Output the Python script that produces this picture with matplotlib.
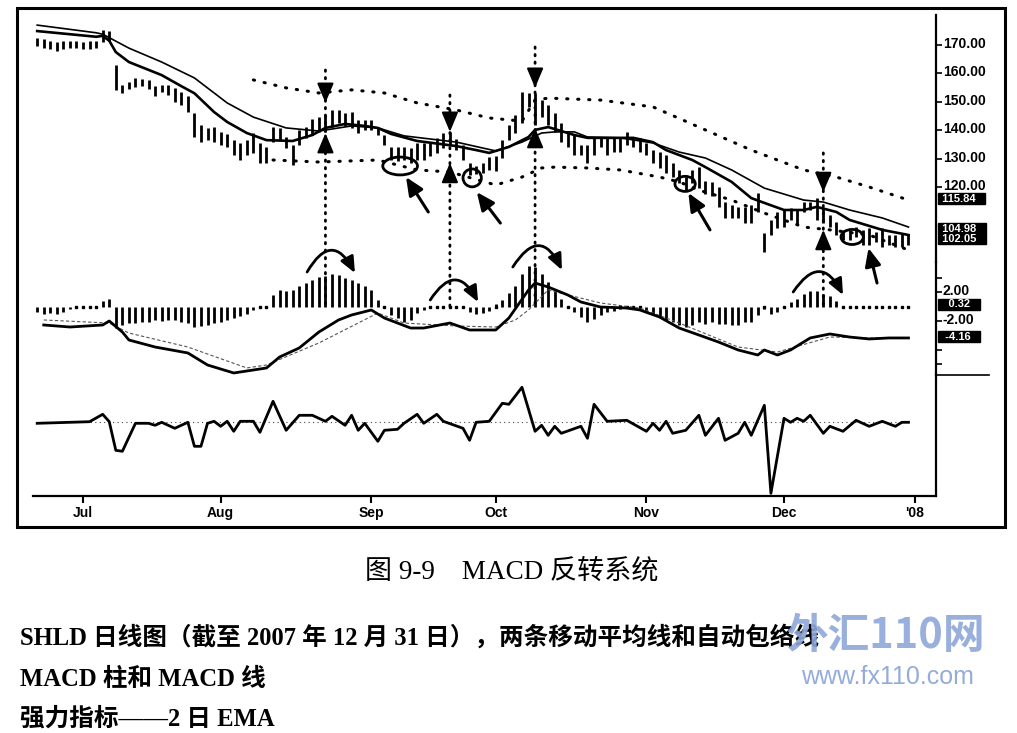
import matplotlib
matplotlib.use("Agg")
import matplotlib.pyplot as plt
from matplotlib.patches import Ellipse, FancyArrowPatch, ConnectionPatch, Rectangle
from matplotlib.lines import Line2D
from matplotlib.transforms import blended_transform_factory, ScaledTranslation
import numpy as np

plt.rcParams['font.family'] = ['Liberation Sans', 'DejaVu Sans']

# ---------------- data (trading-day index 0 = 21 Jun 2007) ----------------
bar_high = [172.5, 172.0, 171.5, 171.0, 171.5, 171.5, 171.5, 171.0, 171.5, 171.5,
            175.3, 175.0, 163.0, 156.0, 157.0, 158.4, 158.0, 157.5, 155.5, 156.0,
            156.0, 155.0, 153.5, 152.0, 146.1, 141.8, 140.8, 141.1, 139.4, 138.5,
            136.5, 135.5, 136.5, 139.0, 135.5, 134.0, 141.1, 140.8, 137.6, 134.8,
            140.1, 141.1, 144.0, 144.6, 145.4, 147.1, 147.1, 146.0, 146.4, 143.6,
            143.6, 143.6, 140.8, 138.3, 134.1, 134.1, 134.1, 133.7, 135.5, 135.5,
            136.0, 137.3, 139.0, 139.5, 137.0, 134.8, 128.5, 127.5, 128.5, 130.6,
            131.0, 136.5, 141.8, 145.4, 153.5, 153.1, 153.1, 150.6, 148.9, 146.1,
            142.5, 139.0, 138.3, 134.8, 134.8, 137.3, 137.6, 137.6, 137.6, 137.6,
            139.4, 137.3, 137.3, 135.5, 133.0, 132.3, 131.3, 128.5, 126.0, 123.5,
            126.0, 127.0, 122.0, 121.8, 120.0, 114.7, 113.7, 113.0, 113.0, 113.7,
            117.9, 103.8, 108.4, 111.2, 111.9, 112.6, 111.9, 114.7, 114.7, 116.1,
            112.6, 110.1, 107.7, 104.9, 104.9, 105.9, 104.9, 105.6, 104.2, 105.6,
            103.1, 103.1, 103.8, 103.5]
bar_low = [169.5, 169.0, 168.5, 168.0, 168.5, 169.0, 169.0, 168.5, 168.5, 169.0,
           171.0, 171.5, 154.2, 153.0, 154.5, 155.2, 155.5, 154.5, 152.0, 153.5,
           152.5, 150.0, 148.9, 146.4, 137.6, 135.8, 136.5, 135.8, 134.8, 134.0,
           131.3, 129.5, 131.3, 132.0, 128.5, 128.5, 135.8, 136.5, 133.7, 127.7,
           134.8, 137.3, 138.3, 139.4, 139.4, 141.1, 142.5, 141.5, 140.8, 139.0,
           140.1, 140.1, 138.3, 134.8, 129.5, 129.0, 129.5, 128.5, 129.5, 129.5,
           131.0, 132.0, 133.7, 134.8, 133.0, 129.5, 124.2, 124.5, 125.0, 126.0,
           125.5, 130.2, 136.5, 139.0, 142.5, 148.2, 141.8, 144.8, 141.8, 139.4,
           135.8, 134.1, 131.3, 131.3, 128.5, 131.3, 134.1, 131.3, 132.3, 132.3,
           134.8, 134.1, 132.3, 131.3, 128.5, 126.7, 124.9, 123.5, 121.4, 119.0,
           121.4, 119.6, 117.5, 116.8, 113.0, 109.1, 109.1, 109.1, 107.3, 107.3,
           111.2, 97.1, 103.1, 105.6, 105.9, 108.4, 106.6, 111.2, 111.9, 108.4,
           107.3, 105.9, 103.1, 101.3, 101.3, 102.4, 99.6, 99.6, 100.6, 98.9,
           99.6, 98.9, 98.9, 99.5]

ema_fast_idx = [0, 9, 10, 11, 12, 14, 19, 22, 24, 27, 29, 32, 35, 39, 42, 44, 47, 50, 52, 54,
                58, 64, 67, 69, 72, 75, 76, 78, 79, 82, 84, 87, 91, 94, 96, 100, 102, 106,
                109, 111, 114, 117, 119, 122, 124, 129, 133]
ema_fast_val = [174.9, 172.9, 173.2, 171.5, 167.5, 164.0, 159.4, 155.5, 153.0, 146.4, 142.9,
                139.0, 136.5, 136.2, 138.3, 140.8, 142.2, 141.5, 140.8, 138.7, 136.2, 134.4,
                133.0, 132.0, 134.1, 137.6, 140.1, 141.1, 140.4, 138.3, 137.3, 137.3, 137.3,
                135.8, 133.0, 129.5, 127.0, 121.8, 116.1, 114.4, 111.9, 111.9, 113.0, 111.2,
                108.4, 104.9, 103.1]
ema_slow_idx = [0, 9, 10, 14, 19, 24, 29, 33, 38, 43, 48, 52, 56, 64, 70, 74, 77, 79, 82, 84,
                89, 94, 98, 102, 106, 111, 117, 120, 124, 129, 133]
ema_slow_val = [177.0, 174.3, 173.8, 168.9, 164.0, 158.4, 149.6, 144.6, 140.8, 139.7, 141.5,
                140.8, 138.0, 135.8, 132.7, 135.8, 139.0, 139.4, 139.4, 137.6, 137.3, 135.5,
                132.3, 130.2, 126.0, 119.6, 115.4, 114.7, 111.9, 109.1, 105.9]
env_up_idx = [33, 38, 43, 48, 53, 58, 64, 69, 74, 76, 78, 86, 94, 101, 109, 117, 122, 127, 133]
env_up_val = [157.7, 154.9, 153.1, 154.2, 153.1, 149.6, 147.1, 144.3, 143.2, 150.6, 151.3,
              150.6, 148.2, 141.1, 133.0, 126.0, 123.5, 120.0, 115.4]
env_lo_idx = [36, 43, 52, 58, 63, 70, 74, 77, 79, 84, 89, 95, 98, 101, 106, 111, 117, 121, 127, 133]
env_lo_val = [129.5, 128.8, 129.5, 126.0, 125.3, 120.7, 123.5, 126.7, 127.0, 126.7, 126.0,
              123.5, 121.8, 118.9, 115.4, 110.8, 105.9, 104.9, 103.1, 97.8]

macd_hist = [-0.8, -1.0, -0.9, -1.0, -0.8, -0.4,
             -0.1, 0.0, 0.0, 0.1,
             0.8, 1.0,
             -2.9, -2.55, -2.3, -2.25, -2.1, -2.1, -1.9, -1.95, -1.9, -1.9, -2.1, -2.3,
             -2.85, -2.65, -2.55, -2.3, -2.1, -1.9, -1.65, -1.35, -1.0, -0.5,
             -0.1, 0.0,
             1.6, 2.3, 2.2, 2.3, 2.8, 3.2, 3.7, 4.1, 4.2, 4.5, 4.4, 3.9, 3.7, 3.2, 2.8, 2.3, 0.9,
             0.1,
             -1.2, -1.6, -2.1, -1.9, -0.9, -0.5, -0.2,
             0.0, 0.05, 0.0, 0.0, 0.0,
             -0.7, -1.0, -0.9, -0.6,
             0.3, 0.9, 1.8, 2.8, 4.5, 5.6, 5.4, 4.5, 3.4, 2.2, 1.1,
             0.0, -0.8, -1.5, -2.1, -1.7, -1.2, -0.8, -0.6, -0.3, 0.0, 0.0, 0.0,
             -0.6, -1.0, -1.5, -1.9, -2.2, -2.6, -2.8, -2.6, -2.2, -2.4, -2.2, -2.4, -2.4,
             -2.6, -2.6, -2.2, -2.2, -1.2, -0.3, -1.0, -0.8,
             0.0, 0.6, 1.1, 1.7, 2.2, 2.2, 1.7, 1.5, 0.8,
             0.0, 0.0, 0.0, 0.0, 0.0, 0.0, 0.0, 0.0, 0.0, 0.0, 0.0]
macd_idx = [1, 5, 10, 11, 13, 14, 18, 23, 26, 28, 30, 33, 35, 37, 40, 43, 46, 48, 51, 53, 57,
            59, 63, 66, 70, 72, 75, 76, 78, 81, 83, 86, 90, 92, 95, 98, 101, 104, 107, 110,
            111, 113, 115, 118, 121, 124, 127, 130, 133]
macd_val = [-2.55, -2.83, -2.55, -2.0, -3.52, -4.62, -5.59, -6.41, -8.07, -8.62, -9.17, -8.76,
            -8.48, -6.97, -5.72, -3.52, -1.86, -1.17, -0.48, -1.59, -2.97, -2.97, -2.28, -3.24,
            -3.24, -1.59, 2.28, 3.24, 2.69, 1.59, 0.62, -0.07, -0.21, -0.48, -1.45, -2.97,
            -3.93, -4.90, -6.0, -6.69, -6.0, -6.69, -6.0, -4.34, -3.79, -4.21, -4.48, -4.34, -4.34]
signal_idx = [1, 11, 14, 23, 32, 35, 43, 52, 56, 64, 70, 73, 75, 78, 86, 92, 98, 107, 113,
              121, 127, 133]
signal_val = [-1.86, -2.28, -3.66, -5.59, -8.48, -8.07, -5.03, -0.9, -2.28, -2.69, -2.83,
              -1.86, -0.48, 2.28, 0.48, -0.21, -2.28, -5.59, -6.28, -4.21, -4.34, -4.34]

force_idx = [0, 8, 10, 11, 12, 13, 15, 17, 18, 19, 21, 23, 24, 25, 26, 27, 28, 29, 30, 31, 33,
             34, 36, 38, 40, 42, 44, 45, 47, 48, 49, 50, 52, 53, 55, 56, 58, 59, 61, 62, 65,
             66, 67, 69, 71, 72, 74, 76, 77, 78, 79, 80, 83, 84, 85, 87, 90, 93, 94, 95, 96,
             97, 99, 101, 102, 104, 105, 107, 108, 109, 111, 112, 114, 115, 116, 117, 118,
             120, 121, 123, 125, 127, 129, 131, 132, 133]
force_val = [-0.1, 0.06, 0.8, 0.06, -2.8, -2.9, -0.1, -0.1, -0.3, 0.0, -0.6, 0.0, -2.4, -2.4,
             -0.1, 0.1, -0.4, 0.1, -0.9, 0.1, 0.1, -1.0, 2.1, -0.8, 0.7, 0.7, 0.1, 0.6, -0.3,
             0.7, -0.8, -0.1, -1.9, -0.8, -0.7, -0.1, 0.8, -0.1, 0.8, 0.1, -0.6, -1.8, 0.0,
             0.1, 1.9, 1.8, 3.5, -0.9, -0.3, -1.3, -0.4, -1.1, -0.4, -1.6, 1.8, 0.1, 0.2,
             -0.9, -0.1, -0.8, 0.1, -1.1, -0.8, 0.7, -1.3, 0.4, -1.8, -1.1, 0.0, -1.3, 1.7,
             -7.1, 0.4, 0.0, 0.4, 0.1, 0.7, -1.1, -0.4, -0.9, 0.2, -0.4, 0.1, -0.4, 0.0, 0.0]

month_idx = [7, 28, 51, 70, 93, 114, 134]
month_labels = ['Jul', 'Aug', 'Sep', 'Oct', 'Nov', 'Dec', "'08"]
price_ticks = [120, 130, 140, 150, 160, 170]
macd_ticks = [2, -2]
price_boxes = [(115.84, ['115.84']), (103.5, ['104.98', '102.05'])]
macd_boxes = [(0.32, ['0.32']), (-4.16, ['-4.16'])]

# signal annotations: (bar, dotted top price, down-arrow tip, up-arrow tip)
signals = [(44, 161.2, 149.6, 139.0), (63, 152.4, 139.4, 128.5),
           (76, 169.3, 154.9, 140.8), (120, 132.0, 118.2, 104.9)]
# circles: (bar, price, width in bars, height in price)
circles = [(55.4, 127.4, 5.3, 6.3), (66.4, 123.2, 2.8, 6.3),
           (98.9, 121.1, 3.1, 5.3), (124.4, 102.4, 3.4, 5.3)]
# pointer arrows: (tail bar, tail price, tip bar, tip price)
pointers = [(59.7, 111.2, 56.3, 123.5), (70.7, 107.3, 67.1, 118.2),
            (102.7, 104.9, 99.4, 117.9), (128.2, 86.2, 126.9, 98.5)]
# curved arrows over histogram: (start bar, start val, end bar, end val, rad)
arcs = [(41.2, 4.76, 48.5, 4.62, -0.9), (60.0, 0.9, 67.3, 0.62, -0.85),
        (72.6, 5.45, 80.1, 5.03, -0.9), (115.4, 2.0, 123.0, 1.59, -0.85)]

# ---------------- figure ----------------
W, H = 1017, 733
fig = plt.figure(figsize=(W / 100, H / 100), dpi=100)


def frac(l, t, r, b):
    return [l / W, 1 - b / H, (r - l) / W, (b - t) / H]


ax_p = fig.add_axes(frac(33, 15, 936, 262))
ax_m = fig.add_axes(frac(33, 262, 936, 375), sharex=ax_p)
ax_f = fig.add_axes(frac(33, 375, 936, 496), sharex=ax_p)
for ax in (ax_p, ax_m, ax_f):
    ax.set_facecolor('none')
    for s in ('top', 'left', 'bottom'):
        ax.spines[s].set_visible(False)
    ax.spines['right'].set_linewidth(1.6)
ax_f.spines['bottom'].set_visible(True)
ax_f.spines['bottom'].set_linewidth(1.6)

ax_p.set_xlim(-0.64, 137.2)
ax_p.set_ylim(93.59, 180.56)
ax_m.set_ylim(-9.45, 6.14)
ax_f.set_ylim(-7.37, 4.73)

n = len(bar_high)
idx = np.arange(n)

# price panel
ax_p.vlines(idx, bar_low, bar_high, color='black', lw=2.0)
ax_p.plot(ema_slow_idx, ema_slow_val, color='black', lw=1.2)
ax_p.plot(ema_fast_idx, ema_fast_val, color='black', lw=1.9)
dot = dict(color='black', lw=2.2, linestyle=(0, (0.4, 3.2)), dash_capstyle='round')
ax_p.plot(env_up_idx, env_up_val, **dot)
ax_p.plot(env_lo_idx, env_lo_val, **dot)

# MACD panel
h = np.array(macd_hist)
ax_m.vlines(idx, 0, h, color='black', lw=2.0)
small = np.abs(h) < 0.35
ax_m.plot(idx[small], np.zeros(small.sum()), 's', color='black', ms=1.8)
ax_m.plot(signal_idx, signal_val, color='#555555', lw=0.8, linestyle=(0, (3, 2)))
ax_m.plot(macd_idx, macd_val, color='black', lw=2.0)

# force panel
ax_f.plot([0, n - 1], [0, 0], color='#444444', lw=0.8, linestyle=(0, (1, 3)))
ax_f.plot(force_idx, force_val, color='black', lw=2.0)

# ticks
tick_font = dict(family=['Liberation Sans', 'DejaVu Sans'], weight='bold', size=10)
ax_p.yaxis.tick_right()
ax_p.set_yticks(price_ticks)
ax_p.set_yticklabels([f'{v:.2f}' for v in price_ticks], fontdict=tick_font)
ax_m.yaxis.tick_right()
ax_m.set_yticks(macd_ticks)
ax_m.set_yticklabels([f'{v:.2f}' for v in macd_ticks], fontdict=tick_font)
ax_m.set_yticks([4, -6, -8], minor=True)
ax_f.set_yticks([])
up = ScaledTranslation(0, 0.025, fig.dpi_scale_trans)
for ax in (ax_p, ax_m):
    ax.tick_params(axis='y', which='both', direction='out', length=4, width=1.2, pad=1)
    ax.tick_params(axis='x', bottom=False, labelbottom=False)
    for lab in ax.get_yticklabels():
        lab.set_transform(lab.get_transform() + up)
ax_f.set_xticks(month_idx)
ax_f.set_xticklabels(month_labels, fontdict=dict(family=['Liberation Sans', 'DejaVu Sans'],
                                                 weight='bold', size=10))
ax_f.tick_params(axis='x', direction='out', length=5, width=1.5, pad=2)

# value boxes on the right axis
box_kw = dict(ha='left', va='center', color='white', fontsize=8, fontweight='bold',
              linespacing=0.95,
              bbox=dict(boxstyle='square,pad=0.05', fc='black', ec='black'), clip_on=False)
for ax, boxes in ((ax_p, price_boxes), (ax_m, macd_boxes)):
    tr = blended_transform_factory(ax.transAxes, ax.transData)
    for v, lines in boxes:
        txt = '\n'.join(' ' + t.rjust(6) + '   ' for t in lines)
        ax.text(1.003, v, txt, transform=tr, **box_kw)

# separator on the right scale, outer frame
fig.add_artist(Line2D([936 / W, 989 / W], [1 - 375 / H, 1 - 375 / H], color='black', lw=1.2))
fig.add_artist(Rectangle((17 / W, 1 - 527 / H), (1005 - 17) / W, (527 - 8) / H, fill=False,
                         lw=2.2, ec='black', transform=fig.transFigure))

# ---------------- annotations ----------------
head = '-|>,head_length=1.0,head_width=0.42'
for b, top, dtip, utip in signals:
    cp = ConnectionPatch(xyA=(b, top), coordsA=ax_p.transData, xyB=(b, 0), coordsB=ax_m.transData,
                         color='black', lw=2.0, linestyle=(0, (0.5, 2.2)), capstyle='round')
    fig.add_artist(cp)
    ax_p.annotate('', xy=(b, dtip), xytext=(b, dtip + 4.8),
                  arrowprops=dict(arrowstyle=head, mutation_scale=12, color='black', lw=1.5,
                                  shrinkA=0, shrinkB=0), annotation_clip=False)
    ax_p.annotate('', xy=(b, utip), xytext=(b, utip - 4.8),
                  arrowprops=dict(arrowstyle=head, mutation_scale=12, color='black', lw=1.5,
                                  shrinkA=0, shrinkB=0), annotation_clip=False)

for cx, cy, w, hh in circles:
    ax_p.add_patch(Ellipse((cx, cy), w, hh, fill=False, ec='black', lw=2.0, clip_on=False))

for tb, tp, hb, hp in pointers:
    ax_p.annotate('', xy=(hb, hp), xytext=(tb, tp),
                  arrowprops=dict(arrowstyle='-|>,head_length=0.9,head_width=0.4', mutation_scale=12,
                                  color='black', lw=2.2, shrinkA=0, shrinkB=0),
                  annotation_clip=False)

for sb, sv, eb, ev, rad in arcs:
    arr = FancyArrowPatch((sb, sv), (eb, ev), connectionstyle=f'arc3,rad={rad}',
                          arrowstyle='-|>,head_length=0.8,head_width=0.35', mutation_scale=12,
                          color='black', lw=2.0, transform=ax_m.transData, clip_on=False,
                          shrinkA=0, shrinkB=0)
    ax_m.add_patch(arr)

# ---------------- caption text ----------------
serif_cjk = ['Liberation Serif', 'Noto Sans CJK SC']
fig.text(512 / W, 1 - 572 / H, '图 9-9    MACD 反转系统', ha='center', va='center',
         fontsize=19.5, family=serif_cjk)
fig.text(20 / W, 1 - 637 / H, 'SHLD 日线图（截至 2007 年 12 月 31 日），两条移动平均线和自动包络线',
         ha='left', va='center', fontsize=17.7, family=serif_cjk, fontweight='bold')
fig.text(20 / W, 1 - 679 / H, 'MACD 柱和 MACD 线', ha='left', va='center', fontsize=17.7,
         family=serif_cjk, fontweight='bold')
fig.text(20 / W, 1 - 719 / H, '强力指标——2 日 EMA', ha='left', va='center', fontsize=17.7,
         family=serif_cjk, fontweight='bold')

# watermark
fig.text(885 / W, 1 - 636 / H, '外汇110网', ha='center', va='center', fontsize=30,
         family=['Noto Sans CJK SC'], fontweight='bold', style='italic', color='#8ea8da', alpha=0.9)
fig.text(887 / W, 1 - 677 / H, 'www.fx110.com', ha='center', va='center', fontsize=18,
         family=['Liberation Sans'], color='#8ea8da', alpha=0.95)

fig.savefig('out.png', dpi=100)
